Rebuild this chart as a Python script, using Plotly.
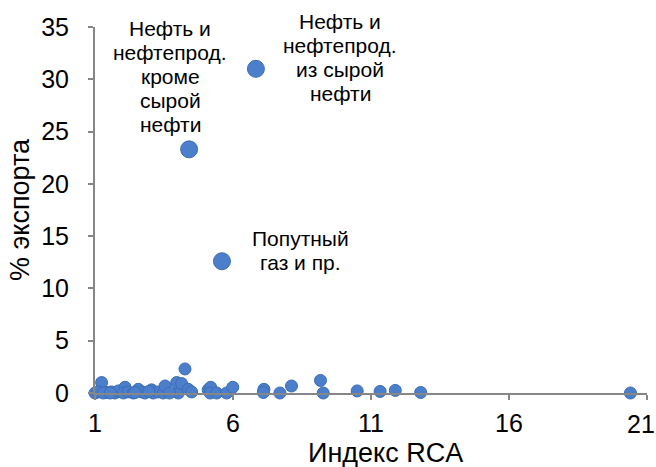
import plotly.graph_objects as go

# RCA index vs share of exports for commodity groups
rca = [6.83, 4.41, 5.60, 20.4,
       1.24, 1.00, 1.10, 1.42, 1.60, 1.72, 1.85, 2.09, 2.03, 2.20, 2.39, 2.57,
       2.70, 2.81, 3.05, 3.11, 3.30, 3.47, 3.54, 4.02, 3.96, 4.14, 4.26, 4.38,
       4.50, 5.10, 5.19, 5.17, 5.41, 5.77, 5.99, 7.12, 7.10, 7.70, 8.12, 9.17,
       9.27, 10.5, 11.33, 11.88, 12.8, 1.30, 1.55, 2.45, 2.95, 3.70]
export_share = [31.0, 23.3, 12.6, 0.0,
                1.0, 0.0, 0.1, 0.05, 0.1, 0.0, 0.2, 0.55, 0.0, 0.1, 0.0, 0.35,
                0.1, 0.0, 0.3, 0.0, 0.1, 0.0, 0.67, 0.0, 1.0, 0.9, 2.3, 0.35,
                0.1, 0.3, 0.55, 0.0, 0.0, 0.0, 0.55, 0.35, 0.05, 0.0, 0.67, 1.2,
                0.0, 0.2, 0.15, 0.25, 0.05, 0.0, 0.0, 0.05, 0.15, 0.0]
big_points = 3  # the first three groups are drawn with larger markers

# Label text (lines), anchor point in data units, and pixel shift of line 1
labels = [
    (["Нефть и", "нефтепрод.", "кроме", "сырой", "нефти"], 3.72, 34.9, 0),
    (["Нефть и", "нефтепрод.", "из сырой", "нефти"], 9.89, 35.0, 6),
    (["Попутный", "газ и пр."], 8.43, 14.82, 0),
]

x_ticks = [1, 6, 11, 16, 21]
y_ticks = [0, 5, 10, 15, 20, 25, 30, 35]
x_title = "Индекс RCA"
y_title = "% экспорта"

FONT = "Liberation Sans, Arial, sans-serif"
TICK_FONT = dict(family=FONT, size=25, color="#000000")
sizes = [17 if i < big_points else 12 for i in range(len(rca))]

# the last x label is drawn separately, right-aligned to stay on the page
x_ticktext = [str(v) for v in x_ticks[:-1]] + [""]

fig = go.Figure(go.Scatter(
    x=rca, y=export_share, mode="markers",
    marker=dict(size=sizes, color="#4b7fcc", opacity=1,
                line=dict(color="#3d6cb4", width=1)),
    cliponaxis=False, hoverinfo="x+y",
))

annotations = []
for lines, lx, ly, shift in labels:
    for i, line in enumerate(lines):
        annotations.append(dict(
            x=lx, y=ly, xref="x", yref="y", text=line, showarrow=False,
            xanchor="center", yanchor="middle", yshift=shift - 24 * i,
            font=dict(family=FONT, size=21, color="#000000"),
        ))

annotations.append(dict(
    x=x_ticks[-1], y=0, xref="x", yref="y", text=str(x_ticks[-1]),
    showarrow=False, xanchor="right", yanchor="middle",
    xshift=9, yshift=-31, borderpad=0, font=TICK_FONT,
))

# x-axis title, centred under the whole chart area
annotations.append(dict(
    x=0.527, y=-0.164, xref="paper", yref="paper", text=x_title,
    showarrow=False, xanchor="center", yanchor="middle",
    font=dict(family=FONT, size=27, color="#000000"),
))

axis_style = dict(
    showgrid=False, zeroline=False, showline=True, linecolor="#868686",
    linewidth=2, ticks="outside", tickcolor="#868686", ticklen=5,
    tickwidth=2, automargin=False, tickfont=TICK_FONT,
)

fig.update_layout(
    width=656, height=467,
    margin=dict(l=95, r=9, t=27, b=74),
    plot_bgcolor="white", paper_bgcolor="white",
    showlegend=False,
    annotations=annotations,
    xaxis=dict(range=[1, 21], tickvals=x_ticks, ticktext=x_ticktext,
               ticklabelstandoff=2, **axis_style),
    yaxis=dict(range=[0, 35], tickvals=y_ticks, ticklabelstandoff=14,
               title=dict(text=y_title, standoff=4,
                          font=dict(family=FONT, size=27, color="#000000")),
               **axis_style),
)

fig.write_html("out.html")
